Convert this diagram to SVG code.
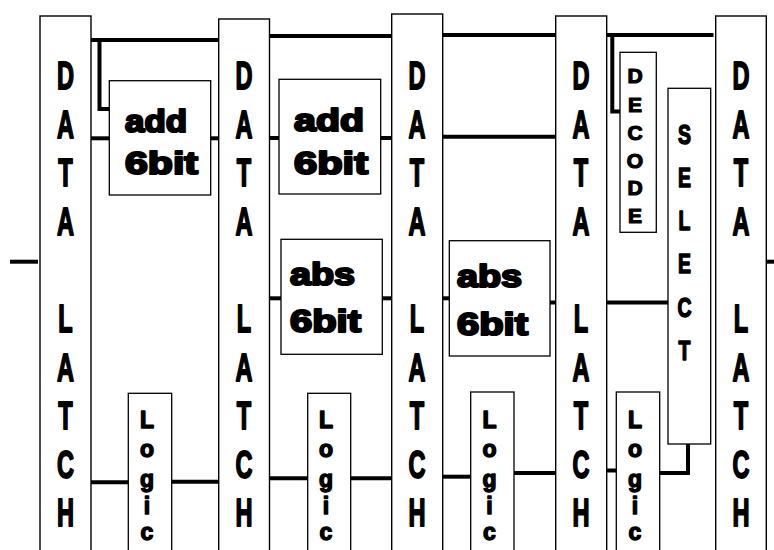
<svg xmlns="http://www.w3.org/2000/svg" width="774" height="550" viewBox="0 0 774 550">
<style>
.bg{fill:#fff}
.latch{fill:#fff;stroke:#000;stroke-width:1.4}
.box{fill:#fff;stroke:#000;stroke-width:1.3}
.t{font-family:"Liberation Sans",Arial,sans-serif;font-weight:bold;fill:#000;stroke:#000;stroke-linejoin:round}
.big{font-size:38px;stroke-width:1.8;text-anchor:middle}
.op{font-size:32px;stroke-width:2.2}
.lg{font-size:23px;stroke-width:1.4;text-anchor:middle}
.dec{font-size:21px;stroke-width:1.2;text-anchor:middle}
.sel{font-size:27px;stroke-width:1.5;text-anchor:middle}
</style>
<defs>
<g id="latchText">
<text class="t big" x="0" y="89">D</text>
<text class="t big" x="0" y="137.6">A</text>
<text class="t big" x="0" y="186.2">T</text>
<text class="t big" x="0" y="234.8">A</text>
<text class="t big" x="0" y="332">L</text>
<text class="t big" x="0" y="380.6">A</text>
<text class="t big" x="0" y="429.2">T</text>
<text class="t big" x="0" y="477.8">C</text>
<text class="t big" x="0" y="526.4">H</text>
</g>
<g id="logicText">
<text class="t lg" x="0" y="428">L</text>
<text class="t lg" x="0" y="457">o</text>
<text class="t lg" x="0" y="487">g</text>
<text class="t lg" x="0" y="514">i</text>
<text class="t lg" x="0" y="540">c</text>
</g>
</defs>
<rect class="bg" x="0" y="0" width="774" height="550"/>

<g id="latch1">
<rect class="latch" x="40" y="16" width="51" height="560"/>
<use href="#latchText" transform="translate(65.5,0) scale(0.62,1)"/>
</g>
<g id="latch2">
<rect class="latch" x="218.7" y="19" width="50.8" height="560"/>
<use href="#latchText" transform="translate(244,0) scale(0.62,1)"/>
</g>
<g id="latch3">
<rect class="latch" x="391.7" y="14" width="51" height="560"/>
<use href="#latchText" transform="translate(417,0) scale(0.62,1)"/>
</g>
<g id="latch4">
<rect class="latch" x="555.7" y="16" width="51" height="560"/>
<use href="#latchText" transform="translate(581,0) scale(0.62,1)"/>
</g>
<g id="latch5">
<rect class="latch" x="715.7" y="16" width="50.6" height="560"/>
<use href="#latchText" transform="translate(741,0) scale(0.62,1)"/>
</g>

<g id="add1">
<rect class="box" x="109.3" y="80.7" width="101.4" height="114.3"/>
<text class="t op" x="125" y="132" textLength="62" lengthAdjust="spacingAndGlyphs">add</text>
<text class="t op" x="125" y="174" textLength="73" lengthAdjust="spacingAndGlyphs">6bit</text>
</g>
<g id="add2">
<rect class="box" x="279" y="79.3" width="101.7" height="114.7"/>
<text class="t op" x="294" y="131" textLength="70" lengthAdjust="spacingAndGlyphs">add</text>
<text class="t op" x="294" y="174" textLength="74" lengthAdjust="spacingAndGlyphs">6bit</text>
</g>
<g id="abs1">
<rect class="box" x="281" y="239.3" width="101.3" height="115"/>
<text class="t op" x="290" y="285" textLength="65" lengthAdjust="spacingAndGlyphs">abs</text>
<text class="t op" x="290" y="332" textLength="71" lengthAdjust="spacingAndGlyphs">6bit</text>
</g>
<g id="abs2">
<rect class="box" x="449.3" y="240.7" width="100.7" height="115.3"/>
<text class="t op" x="457" y="287" textLength="65" lengthAdjust="spacingAndGlyphs">abs</text>
<text class="t op" x="457" y="335" textLength="71" lengthAdjust="spacingAndGlyphs">6bit</text>
</g>

<g id="logic1">
<rect class="box" x="128.3" y="393.3" width="43.4" height="170"/>
<use href="#logicText" transform="translate(147,0)"/>
</g>
<g id="logic2">
<rect class="box" x="307.7" y="393.3" width="43" height="170"/>
<use href="#logicText" transform="translate(326,0)"/>
</g>
<g id="logic3">
<rect class="box" x="470.7" y="392" width="43.3" height="170"/>
<use href="#logicText" transform="translate(489.5,0)"/>
</g>
<g id="logic4">
<rect class="box" x="616.3" y="392" width="43.4" height="170"/>
<use href="#logicText" transform="translate(635,0)"/>
</g>

<g id="decode">
<rect class="box" x="620" y="52.3" width="36.3" height="180"/>
<text class="t dec" x="635" y="83">D</text>
<text class="t dec" x="635" y="112">E</text>
<text class="t dec" x="635" y="140">C</text>
<text class="t dec" x="635" y="168">O</text>
<text class="t dec" x="635" y="195">D</text>
<text class="t dec" x="635" y="223">E</text>
</g>
<g id="select">
<rect class="box" x="668" y="88.3" width="42.7" height="355.7"/>
<g transform="translate(684.5,0) scale(0.72,1)">
<text class="t sel" x="0" y="144">S</text>
<text class="t sel" x="0" y="187">E</text>
<text class="t sel" x="0" y="230">L</text>
<text class="t sel" x="0" y="273">E</text>
<text class="t sel" x="0" y="317">C</text>
<text class="t sel" x="0" y="360">T</text>
</g>
</g>

<g id="connectors" fill="none" stroke="#000" stroke-width="4">
<path d="M10 261.7 H38"/>
<path d="M766.3 261.7 H774"/>
<path d="M91 40 H218.7"/>
<path d="M99.5 40 V109 H109.3"/>
<path d="M269.5 36 H391.7"/>
<path d="M442.7 35 H555.7"/>
<path d="M606.7 35 H713.5"/>
<path d="M612.3 35 V111.5 H620"/>
<path d="M91 138.3 H109.3"/>
<path d="M210.7 138.3 H218.7"/>
<path d="M269.5 138 H279"/>
<path d="M380.7 138 H391.7"/>
<path d="M442.7 136.7 H555.7"/>
<path d="M269.5 298.3 H281"/>
<path d="M382.3 298.3 H391.7"/>
<path d="M442.7 298.3 H449.3"/>
<path d="M550 302.5 H555.7"/>
<path d="M606.7 302.5 H668"/>
<path d="M91 482.3 H128.3"/>
<path d="M171.7 481.7 H218.7"/>
<path d="M269.5 478.3 H307.7"/>
<path d="M350.7 478.3 H391.7"/>
<path d="M442.7 476.7 H470.7"/>
<path d="M514 473 H555.7"/>
<path d="M606.7 470.5 H616.3"/>
<path d="M659.7 473 H688 V444"/>
</g>
</svg>
